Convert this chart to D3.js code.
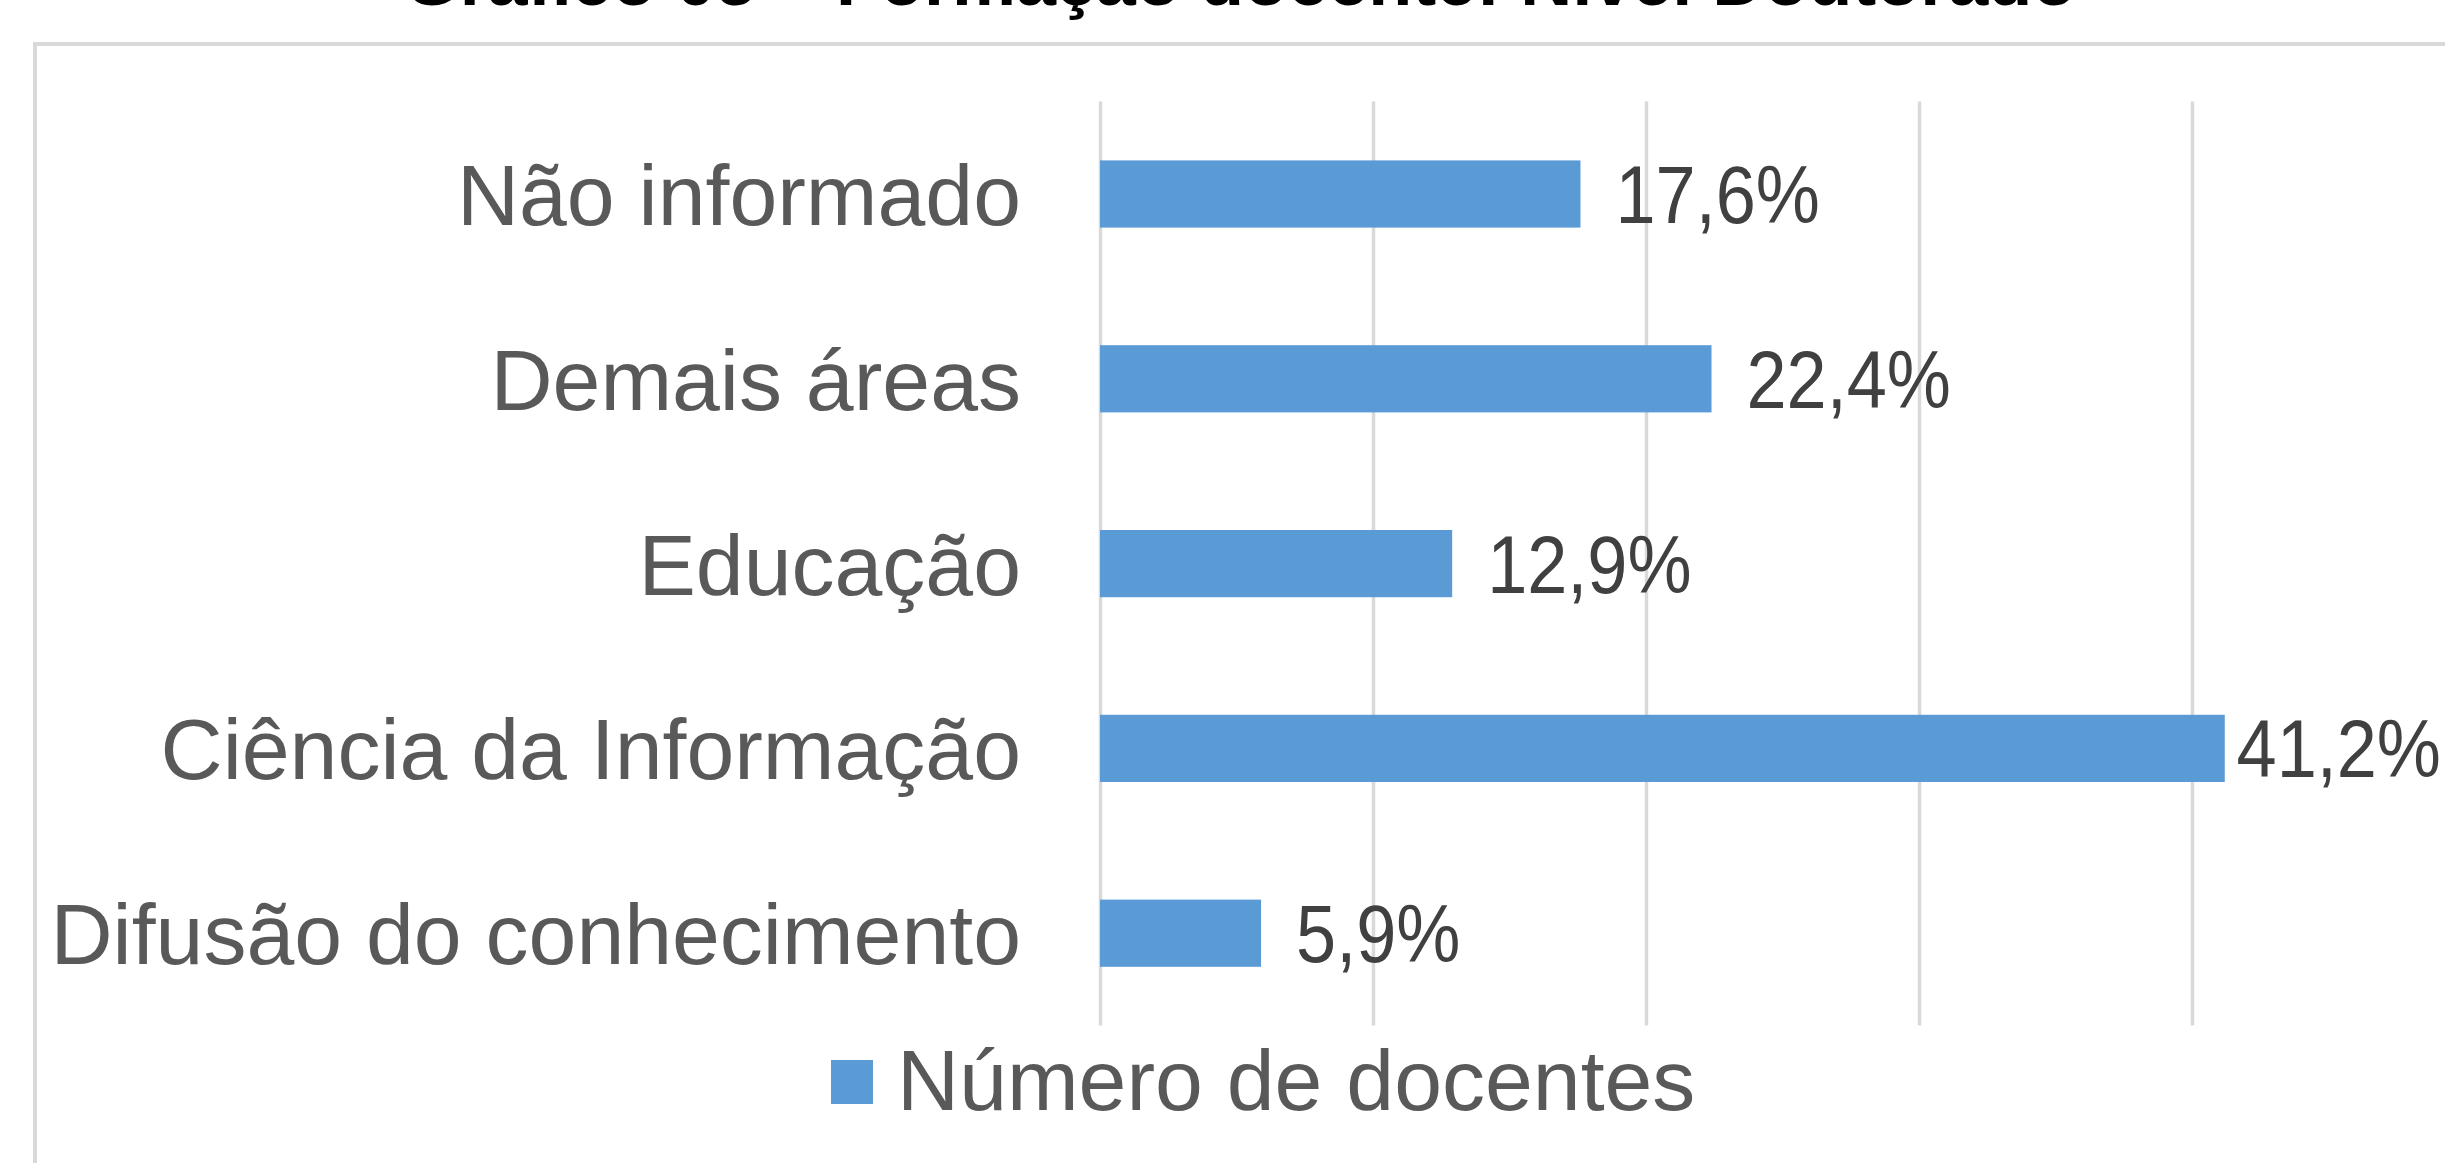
<!DOCTYPE html>
<html>
<head>
<meta charset="utf-8">
<script src="https://cdn.jsdelivr.net/npm/d3@7"></script>
<style>
  body { margin: 0; background: #fff; }
  svg { display: block; }
  .cat-axis text { font-family: "Liberation Sans", Arial, sans-serif; font-size: 86px; fill: #595959; }
  .value-label { font-family: "Liberation Sans", Arial, sans-serif; font-size: 81px; fill: #404040; }
</style>
</head>
<body>
<div id="chart"></div>
<script>

// data (top to bottom)
var categories = ["Não informado", "Demais áreas", "Educação", "Ciência da Informação", "Difusão do conhecimento"];
var values = [17.6, 22.4, 12.9, 41.2, 5.9];
var x_ticks = [0, 10, 20, 30, 40, 50];
var series_name = "Número de docentes";
var title_text = "Gráfico 05 – Formação docente: Nível Doutorado";

var width = 2445,
    height = 1163;

// plot area of the chart
var plot = {left: 1100, right: 2465, top: 101.6, bottom: 1025.6};

var svg = d3.select("#chart").append("svg")
    .attr("width", width)
    .attr("height", height);

// title, mostly cut off at the top of the picture (as in the original)
svg.append("text")
    .attr("x", 1240)
    .attr("y", 5)
    .attr("text-anchor", "middle")
    .style("font-family", "'Liberation Sans', Arial, sans-serif")
    .style("font-weight", "bold")
    .style("font-size", "72px")
    .style("fill", "#000")
    .text(title_text);

// chart area frame (runs past the right and bottom edges)
svg.append("rect")
    .attr("x", 35)
    .attr("y", 44)
    .attr("width", 2600)
    .attr("height", 1300)
    .attr("fill", "none")
    .attr("stroke", "#d9d9d9")
    .attr("stroke-width", 4);

// scales
var x = d3.scaleLinear()
    .domain([0, 50])
    .range([plot.left, plot.right]);

var y = d3.scaleBand()
    .domain(categories)
    .range([plot.top, plot.bottom])
    .paddingInner(1.75 / 2.75)
    .paddingOuter(1.75 / 2.75 / 2);

// vertical gridlines
var grid = svg.append("g")
    .attr("class", "grid")
    .attr("transform", "translate(0," + plot.bottom + ")")
    .call(d3.axisBottom(x)
        .tickValues(x_ticks)
        .tickSize(-(plot.bottom - plot.top))
        .tickFormat(""));
grid.select(".domain").remove();
grid.selectAll("line")
    .attr("stroke", "#d9d9d9")
    .attr("stroke-width", 3.5);

// bars
svg.selectAll(".bar")
    .data(values)
    .enter().append("rect")
    .attr("class", "bar")
    .attr("x", x(0))
    .attr("y", function(d, i) { return y(categories[i]); })
    .attr("width", function(d) { return x(d) - x(0); })
    .attr("height", y.bandwidth())
    .attr("fill", "#5b9bd5");

// category labels on the left
var cat_axis = svg.append("g")
    .attr("class", "cat-axis")
    .attr("transform", "translate(" + plot.left + ",0)")
    .call(d3.axisLeft(y).tickSize(0).tickPadding(79));
cat_axis.select(".domain").remove();
cat_axis.selectAll("text").attr("dy", "0.36em");

// value labels, kept inside the right edge like excel does
var fmt = d3.format(".1f");
var squeeze = 0.89;
svg.selectAll(".value-label")
    .data(values)
    .enter().append("text")
    .attr("class", "value-label")
    .text(function(d) { return fmt(d).replace(".", ",") + "%"; })
    .attr("transform", function(d, i) {
        var w = this.getComputedTextLength() * squeeze;
        var tx = Math.min(x(d) + 35, 2441 - w);
        var ty = y(categories[i]) + y.bandwidth() / 2 + 29;
        return "translate(" + tx + "," + ty + ") scale(" + squeeze + ",1)";
    });

// legend
var legend = svg.append("g")
    .attr("transform", "translate(831,1060)");
legend.append("rect")
    .attr("width", 42)
    .attr("height", 44)
    .attr("fill", "#5b9bd5");
legend.append("text")
    .attr("x", 66)
    .attr("y", 50)
    .style("font-family", "'Liberation Sans', Arial, sans-serif")
    .style("font-size", "86px")
    .style("fill", "#595959")
    .text(series_name);

</script>
</body>
</html>
